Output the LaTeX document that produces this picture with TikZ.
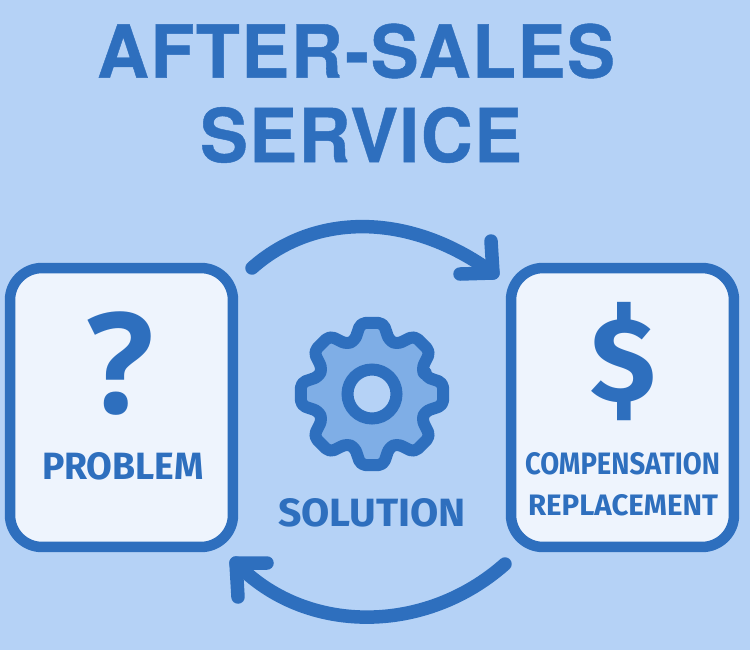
\documentclass[tikz,border=0pt]{standalone}
\usepackage{fontspec}
\usetikzlibrary{calc}
\setmainfont{Liberation Sans}
\newfontfamily\titlefont[FakeBold=0.6,LetterSpace=2]{TeX Gyre Heros}
\newfontfamily\labelfont{Fira Sans}
\newfontfamily\queryfont{Open Sans}
\newfontfamily\dollarfont{Fira Sans}
\definecolor{pagebg}{HTML}{B5D2F6}
\definecolor{cardbg}{HTML}{EEF4FD}
\definecolor{inkblue}{HTML}{2E6FBE}
\definecolor{gearbg}{HTML}{7FAEE6}
\tikzset{
  card/.style={draw=inkblue,fill=cardbg,line width=0.21cm,rounded corners=0.64cm,minimum width=4.46cm,minimum height=5.58cm,inner sep=0pt},
  looparrow/.style={draw=inkblue,line width=0.27cm,line cap=round,line join=round},
  headline/.style={text=inkblue,font=\titlefont\bfseries,inner sep=0pt},
  cardtext/.style={text=inkblue,font=\labelfont\bfseries,inner sep=0pt},
  icontext/.style={text=inkblue,inner sep=0pt}
}
\begin{document}
\begin{tikzpicture}[x=0.02cm,y=-0.02cm]
  \path[use as bounding box,fill=pagebg] (0,0) rectangle (750,650);
  \node[headline] (titleA) at (356,51) {\resizebox{10.36cm}{1.08cm}{AFTER-SALES}};
  \node[headline] (titleB) at (361,135) {\resizebox{6.44cm}{1.1cm}{SERVICE}};
  \node[card] (problem) at (121.5,407.5) {};
  \node[card] (remedy) at (622.5,407.5) {};
  \node[icontext,font=\queryfont\bfseries\fontsize{80}{80}\selectfont] (query) at (121,364) {?};
  \node[icontext,font=\dollarfont\bfseries\fontsize{68}{68}\selectfont] (dollar) at (623,362) {\$};
  \node[cardtext] (problemtext) at (123,466) {\resizebox{3.24cm}{0.54cm}{PROBLEM}};
  \node[cardtext] (comptext) at (622.5,464) {\resizebox{3.9cm}{0.44cm}{COMPENSATION}};
  \node[cardtext] (repltext) at (623,505) {\resizebox{3.8cm}{0.42cm}{REPLACEMENT}};
  \node[cardtext] (solutiontext) at (372,513) {\resizebox{3.76cm}{0.56cm}{SOLUTION}};
  % gear
  \coordinate (hub) at (372,394);
  \draw[draw=inkblue,fill=gearbg,line width=0.24cm,rounded corners=0.1cm,line join=round] ($(hub)+(-18:56)$)
    \foreach \a in {0,45,...,315} {
      -- ($(hub)+(\a-18:56)$) -- ($(hub)+(\a-9:72)$) -- ($(hub)+(\a+9:72)$) -- ($(hub)+(\a+18:56)$)
    } -- cycle;
  \draw[draw=inkblue,fill=pagebg,line width=0.24cm] (hub) circle (0.49cm);
  % arrows
  \coordinate (topstart) at (252,268);
  \coordinate (toptip) at (493,273);
  \coordinate (topbarbA) at (491,241);
  \coordinate (topbarbB) at (460,274);
  \coordinate (lowstart) at (505,564);
  \coordinate (lowtip) at (236,563);
  \coordinate (lowbarbA) at (238,597);
  \coordinate (lowbarbB) at (267,563);
  \draw[looparrow] (topstart) .. controls (315,212) and (410,212) .. (toptip);
  \draw[looparrow] (topbarbA) -- (toptip) -- (topbarbB);
  \draw[looparrow] (lowstart) .. controls (425,635) and (305,635) .. (lowtip);
  \draw[looparrow] (lowbarbA) -- (lowtip) -- (lowbarbB);
\end{tikzpicture}
\end{document}
